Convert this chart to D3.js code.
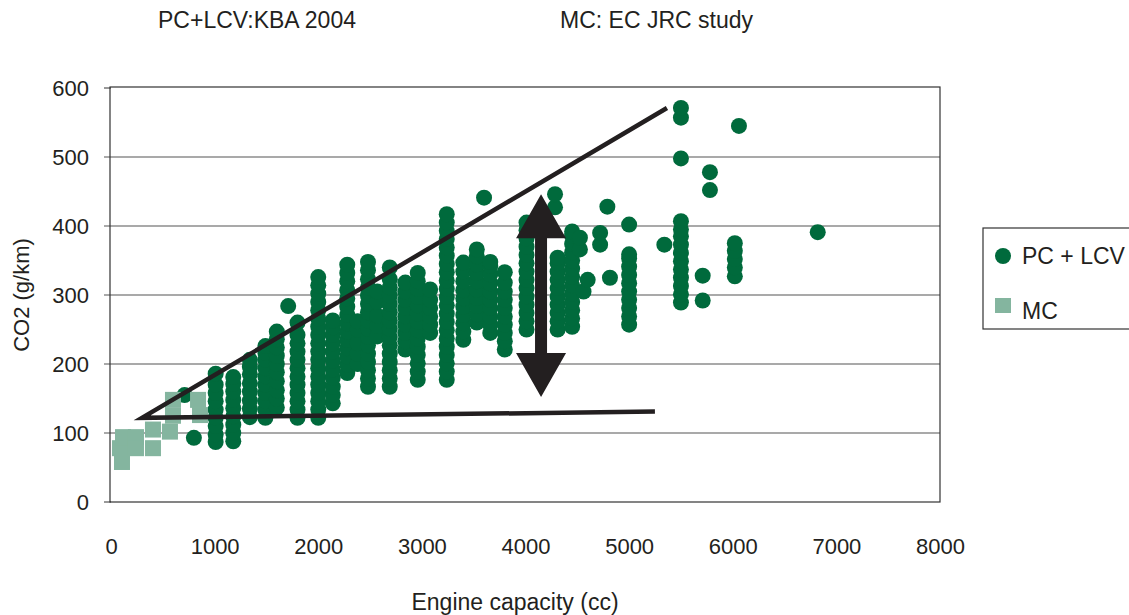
<!DOCTYPE html>
<html><head><meta charset="utf-8">
<script src="https://cdn.jsdelivr.net/npm/d3@7"></script>
<style>body{margin:0;background:#fff;}svg{display:block;font-family:"Liberation Sans",Arial,sans-serif;}</style>
</head><body>
<svg id="c" width="1129" height="615"></svg>
<script>
// ---- data ----
const xTicks = [0,1000,2000,3000,4000,5000,6000,7000,8000];
const yTicks = [0,100,200,300,400,500,600];
const titleLeft = "PC+LCV:KBA 2004";
const titleRight = "MC: EC JRC study";
const seriesNames = ["PC + LCV","MC"];

// PC + LCV: engine capacity of each column and CO2 values in that column
const pcCapacity = [800,710,1010,1180,1340,1490,1600,1710,1800,2000,2140,2280,2380,2480,2570,2690,2840,2960,3080,3240,3400,3530,3600,3660,3800,4010,4285,4310,4450,4525,4560,4600,4720,4790,4815,5000,5340,5500,5710,5780,6020,6060,6820];
const pcCO2 = [
 [93],[155],
 [87,98,110,122,134,146,158,170,186],
 [88,100,112,124,136,148,160,171,181],
 [123,135,147,160,172,185,196,206],
 [122,134,146,158,170,182,194,206,216,226],
 [137,150,162,175,188,200,212,224,236,247],
 [284],
 [122,134,146,158,170,182,194,206,218,230,242,260],
 [122,134,146,158,170,182,194,206,218,230,242,254,266,278,290,302,314,326],
 [143,155,167,180,192,205,218,230,242,253,263],
 [187,199,211,223,235,247,259,271,283,295,307,320,332,344],
 [200,215,230,250,262],
 [167,179,191,203,215,227,239,251,263,275,287,299,311,323,336,348],
 [240,255,270,290,305],
 [167,179,191,203,215,227,239,251,263,275,287,299,311,323,340],
 [221,233,245,257,269,281,293,305,318],
 [177,189,201,213,225,237,249,261,273,285,297,309,320,332],
 [245,257,269,281,293,308],
 [177,189,201,213,225,237,249,261,273,285,297,309,321,333,345,357,369,381,393,405,417],
 [235,247,259,271,283,295,307,320,334,347],
 [260,272,284,296,308,320,332,344,356,366],
 [441],
 [245,257,269,281,293,305,317,330,342,348],
 [221,233,245,257,269,281,293,305,318,333],
 [250,262,274,286,298,310,322,334,346,358,370,382,394,405],
 [427,446],
 [250,262,274,286,298,310,322,334,346,354],
 [254,266,278,290,302,314,326,338,350,362,374,386,392],
 [366,383],
 [305],
 [322],
 [373,390],
 [428],
 [325],
 [257,269,281,293,305,317,329,341,353,359,402],
 [373],
 [289,301,313,325,337,349,361,373,385,395,407,498,557,571],
 [292,328],
 [452,478],
 [327,340,352,364,375],
 [545],
 [391]
];

// MC (motorcycles)
const mcCapacity = [106,87,116,241,241,405,405,569,598,598,840,859];
const mcCO2 = [58,78,94,94,78,78,105,102,148,125,148,126];

// annotation lines (engine capacity, CO2)
const envelopeLine = [[5365,571],[299,122],[5249,131]];
const rangeArrow = {cc:4150, top:446, bottom:152};

// ---- drawing ----
const svg = d3.select("#c");
const L = 111, R = 940, T = 88, B = 502;
const x = d3.scaleLinear().domain([0,8000]).range([L,R]);
const y = d3.scaleLinear().domain([0,600]).range([B,T]);
const dark = "#006a3c", light = "#84b59f", ink = "#231f20";
const fsTick = 22, fsLab = 23;

// gridlines
svg.append("g").selectAll("line").data(yTicks.filter(d=>d>0 && d<600)).join("line")
  .attr("x1",L-7).attr("x2",R).attr("y1",d=>y(d)).attr("y2",d=>y(d))
  .attr("stroke","#555").attr("stroke-width",1.2);

// frame
svg.append("rect").attr("x",L-1).attr("y",y(600)-1).attr("width",R-L+1).attr("height",B-y(600)+1)
  .attr("fill","none").attr("stroke","#333").attr("stroke-width",1.2);
svg.append("g").selectAll("line").data([0,600]).join("line")
  .attr("x1",L-7).attr("x2",L).attr("y1",d=>y(d)).attr("y2",d=>y(d)).attr("stroke","#333");

// axes labels via d3 axes
const yAxis = svg.append("g").attr("transform",`translate(${L-22},0)`)
  .call(d3.axisLeft(y).tickValues(yTicks).tickSize(0).tickPadding(0));
yAxis.select(".domain").remove();
yAxis.selectAll("text").attr("font-size",fsTick).attr("fill","#231f20").attr("font-family","Liberation Sans, Arial, sans-serif");

const xAxis = svg.append("g").attr("transform",`translate(0,${B+36})`)
  .call(d3.axisBottom(x).tickValues(xTicks).tickSize(0).tickPadding(0).tickFormat(d3.format("d")));
xAxis.select(".domain").remove();
xAxis.selectAll("text").attr("font-size",fsTick).attr("fill","#231f20").attr("font-family","Liberation Sans, Arial, sans-serif");

// points
const pcPts = [];
pcCapacity.forEach((cc,i)=>pcCO2[i].forEach(v=>pcPts.push([cc,v])));
svg.append("g").selectAll("circle").data(pcPts).join("circle")
  .attr("cx",d=>x(d[0])).attr("cy",d=>y(d[1])).attr("r",8).attr("fill",dark);

svg.append("g").selectAll("rect").data(mcCapacity.map((c,i)=>[c,mcCO2[i]])).join("rect")
  .attr("x",d=>x(d[0])-8).attr("y",d=>y(d[1])-8).attr("width",16).attr("height",16).attr("fill",light);

// envelope lines
svg.append("path").attr("d",d3.line().x(d=>x(d[0])).y(d=>y(d[1]))(envelopeLine))
  .attr("fill","none").attr("stroke",ink).attr("stroke-width",4.5).attr("stroke-linejoin","miter").attr("stroke-miterlimit",20);

// double arrow
const ax = x(rangeArrow.cc), at = y(rangeArrow.top), ab = y(rangeArrow.bottom);
const hw = 25, hh = 44, sw = 6;
svg.append("path").attr("fill",ink).attr("d",
  `M${ax},${at} L${ax+hw},${at+hh} L${ax+sw},${at+hh} L${ax+sw},${ab-hh} L${ax+hw},${ab-hh} L${ax},${ab} L${ax-hw},${ab-hh} L${ax-sw},${ab-hh} L${ax-sw},${at+hh} L${ax-hw},${at+hh} Z`);

// titles
svg.append("text").attr("x",158).attr("y",28).attr("font-size",fsLab).attr("fill","#231f20").text(titleLeft);
svg.append("text").attr("x",560).attr("y",28).attr("font-size",fsLab).attr("fill","#231f20").text(titleRight);
svg.append("text").attr("x",515).attr("y",610).attr("text-anchor","middle").attr("font-size",fsLab).attr("fill","#231f20").text("Engine capacity (cc)");
svg.append("text").attr("transform","translate(29,295) rotate(-90)").attr("text-anchor","middle").attr("font-size",fsTick).attr("fill","#231f20").text("CO2 (g/km)");

// legend
const lg = svg.append("g");
lg.append("rect").attr("x",983).attr("y",228).attr("width",160).attr("height",101).attr("fill","#fff").attr("stroke","#333").attr("stroke-width",1.2);
lg.append("circle").attr("cx",1003).attr("cy",256).attr("r",8).attr("fill",dark);
lg.append("text").attr("x",1022).attr("y",264).attr("font-size",fsLab).attr("fill","#231f20").text(seriesNames[0]);
lg.append("rect").attr("x",995).attr("y",298).attr("width",16).attr("height",15).attr("fill",light);
lg.append("text").attr("x",1022).attr("y",319).attr("font-size",fsLab).attr("fill","#231f20").text(seriesNames[1]);
</script>
</body></html>
